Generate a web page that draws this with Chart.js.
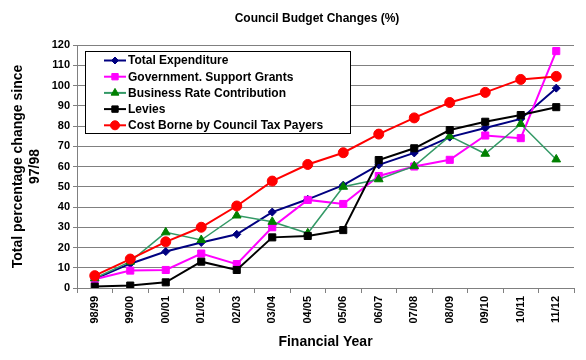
<!DOCTYPE html>
<html>
<head>
<meta charset="utf-8">
<script src="https://cdn.jsdelivr.net/npm/chart.js@4/dist/chart.umd.min.js"></script>
<style>
  body { margin: 0; background: #fff; }
  canvas { display: block; }
</style>
</head>
<body>
<canvas id="budgetChart" width="586" height="360"></canvas>
<script>
// Data
const years = ['98/99', '99/00', '00/01', '01/02', '02/03', '03/04', '04/05',
  '05/06', '06/07', '07/08', '08/09', '09/10', '10/11', '11/12'];

const totalExpenditure = [4.5, 12, 18, 22.5, 26.5, 37.5, 43.8, 50.8, 60.8, 66.7, 74.5, 79, 83.5, 98.7];
const govSupportGrants = [4.3, 8.6, 8.9, 17, 11.8, 30, 43.5, 41.5, 55.3, 60, 63.3, 75.3, 74, 117];
const businessRate = [4.8, 13, 27.5, 23.7, 35.8, 32.7, 27, 50, 53.7, 60.2, 75, 66.3, 81, 63.5];
const levies = [0.7, 1.2, 2.8, 13, 8.9, 25, 25.7, 28.6, 63.2, 69, 78, 82.1, 85.4, 89.3];
const councilTaxPayers = [6.1, 14.3, 22.8, 30, 40.5, 52.8, 61, 66.8, 76, 84, 91.6, 96.6, 103, 104.5];

const ctx = document.getElementById('budgetChart').getContext('2d');
const FONT = '"Liberation Sans", Arial, sans-serif';

// title drawn by hand so it can sit centred over the plot like the original
const titlePlugin = {
  id: 'titlePlugin',
  afterDraw(chart) {
    const c = chart.ctx;
    c.save();
    c.fillStyle = '#000';
    c.font = 'bold 12px ' + FONT;
    c.textAlign = 'center';
    c.textBaseline = 'middle';
    c.fillText('Council Budget Changes (%)', 317, 19);
    c.restore();
  }
};

// Excel style legend box inside the plot area
const boxLegend = {
  id: 'boxLegend',
  afterDatasetsDraw(chart) {
    const c = chart.ctx;
    const left = 85, top = 51, w = 265, h = 82;
    c.save();
    c.fillStyle = '#fff';
    c.fillRect(left, top, w, h);
    c.strokeStyle = '#000';
    c.lineWidth = 1;
    c.strokeRect(left + 0.5, top + 0.5, w, h);

    chart.data.datasets.forEach((ds, i) => {
      const y = top + 9.5 + i * 16.2;
      c.strokeStyle = ds.borderColor;
      c.lineWidth = 2;
      c.beginPath();
      c.moveTo(104, y);
      c.lineTo(126, y);
      c.stroke();
      c.fillStyle = ds.pointBackgroundColor;
      c.strokeStyle = ds.pointBorderColor;
      c.lineWidth = 1;
      Chart.helpers.drawPoint(c, {
        pointStyle: ds.pointStyle,
        radius: ds.pointRadius - 0.5,
        borderWidth: 1,
        rotation: 0
      }, 115, y);
      c.fillStyle = '#000';
      c.font = 'bold 12px ' + FONT;
      c.textAlign = 'left';
      c.textBaseline = 'middle';
      c.fillText(ds.label, 128, y + 0.5);
    });
    c.restore();
  }
};

function series(label, data, line, marker, style, radius, width, order) {
  return {
    label: label,
    data: data,
    borderColor: line,
    borderWidth: width,
    backgroundColor: marker,
    pointBackgroundColor: marker,
    pointBorderColor: marker,
    pointStyle: style,
    pointRadius: radius,
    pointBorderWidth: 1,
    tension: 0,
    order: order
  };
}

new Chart(ctx, {
  type: 'line',
  data: {
    labels: years,
    datasets: [
      series('Total Expenditure', totalExpenditure, '#000080', '#000080', 'rectRot', 4, 2, 4),
      series('Government. Support Grants', govSupportGrants, '#FF00FF', '#FF00FF', 'rect', 5, 2, 3),
      series('Business Rate Contribution', businessRate, '#339966', '#008000', 'triangle', 5, 1.5, 2),
      series('Levies', levies, '#000000', '#000000', 'rect', 5, 2, 1),
      series('Cost Borne by Council Tax Payers', councilTaxPayers, '#FF0000', '#FF0000', 'circle', 5, 2, 0)
    ]
  },
  options: {
    responsive: false,
    animation: false,
    layout: {
      padding: { top: 45, right: 12, bottom: 0, left: 0 }
    },
    plugins: {
      legend: { display: false },
      title: { display: false },
      tooltip: { enabled: false }
    },
    scales: {
      x: {
        type: 'category',
        offset: true,
        grid: {
          offset: true,
          drawOnChartArea: false,
          color: '#808080',
          tickLength: 5
        },
        border: { color: '#808080' },
        ticks: {
          autoSkip: false,
          minRotation: 90,
          maxRotation: 90,
          padding: 3,
          color: '#000',
          font: { family: FONT, size: 11, weight: 'bold' }
        },
        title: {
          display: true,
          text: 'Financial Year',
          color: '#000',
          font: { family: FONT, size: 14, weight: 'bold' },
          padding: { top: 0, bottom: 9 }
        },
        afterFit(scale) { scale.height = 72; }
      },
      y: {
        min: 0,
        max: 120,
        ticks: {
          stepSize: 10,
          padding: 3,
          color: '#000',
          font: { family: FONT, size: 11, weight: 'bold' }
        },
        grid: {
          color: '#808080',
          tickLength: 4
        },
        border: { color: '#808080' },
        title: {
          display: true,
          text: ['Total percentage change since', '97/98'],
          color: '#000',
          font: { family: FONT, size: 14, weight: 'bold' },
          padding: { top: 10, bottom: 0 }
        },
        afterFit(scale) { scale.width = 77; }
      }
    }
  },
  plugins: [boxLegend, titlePlugin]
});
</script>
</body>
</html>
